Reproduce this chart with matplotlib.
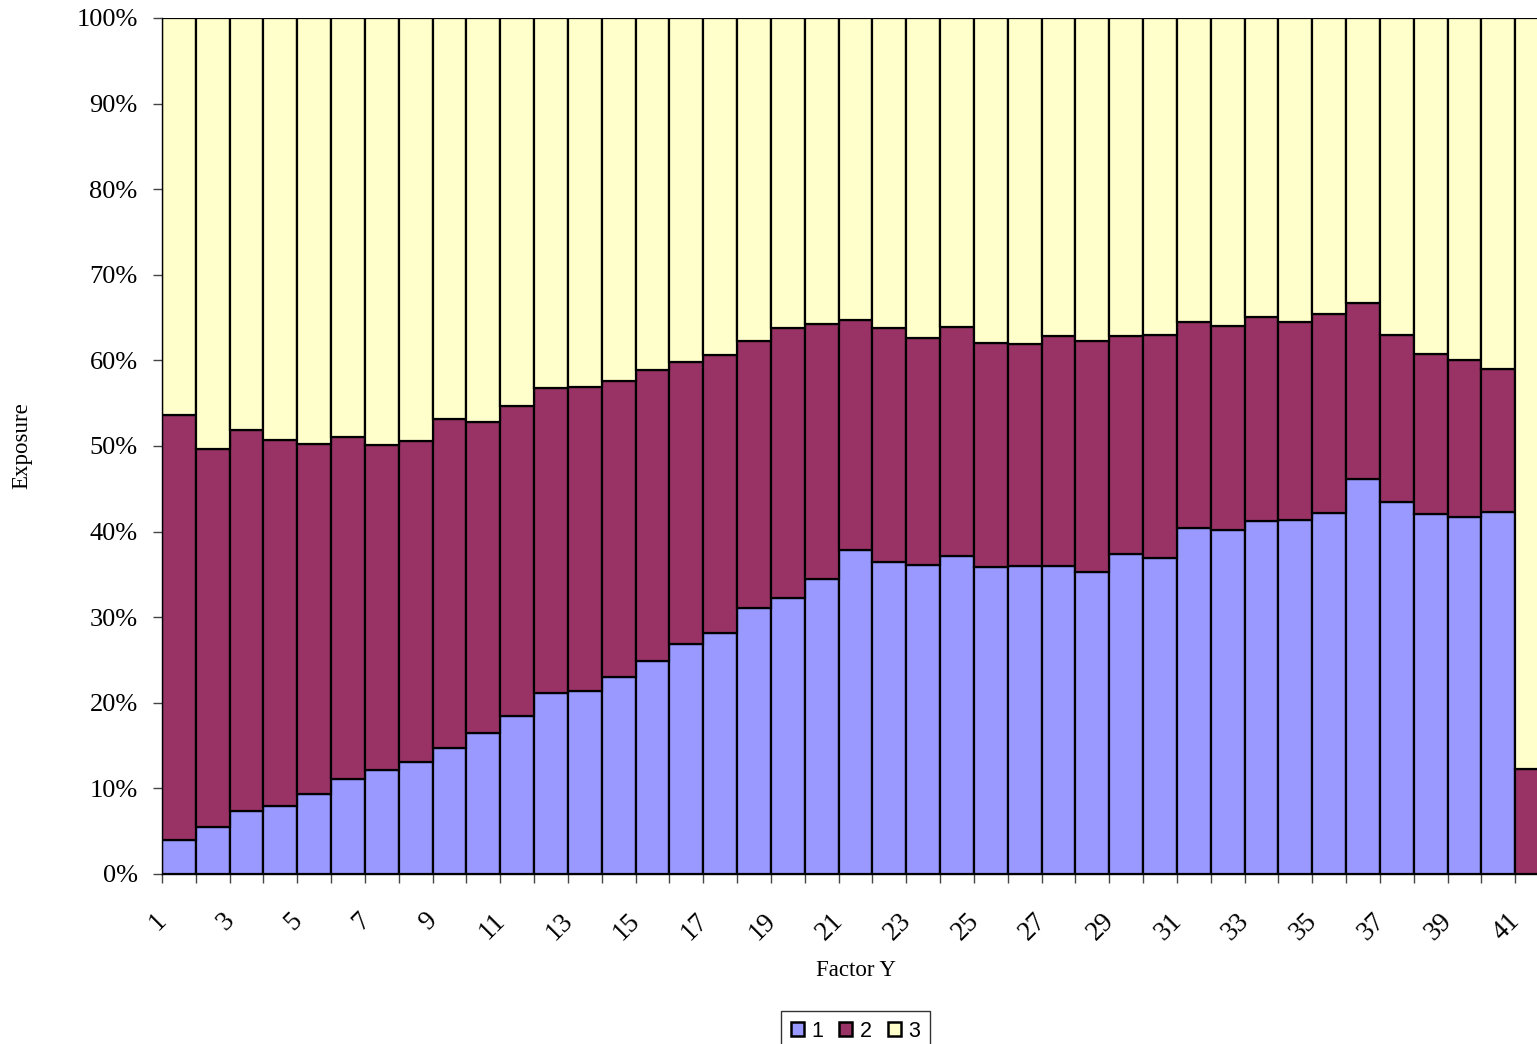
import numpy as np
import matplotlib
matplotlib.use('Agg')
import matplotlib.pyplot as plt
import matplotlib.transforms as mtransforms
from matplotlib.ticker import PercentFormatter

# exposure share per Factor Y level (percent)
categories = [str(i) for i in range(1, 42)]
share_1 = [4.0, 5.5, 7.4, 8.0, 9.3, 11.1, 12.1, 13.1, 14.7, 16.5,
           18.5, 21.2, 21.4, 23.0, 24.9, 26.9, 28.2, 31.1, 32.3, 34.5,
           37.9, 36.5, 36.1, 37.1, 35.9, 36.0, 36.0, 35.3, 37.4, 36.9,
           40.4, 40.2, 41.2, 41.4, 42.2, 46.1, 43.4, 42.1, 41.7, 42.3,
           0.0]
top_2 = [53.6, 49.6, 51.9, 50.7, 50.2, 51.1, 50.1, 50.6, 53.1, 52.8,
         54.7, 56.8, 56.9, 57.6, 58.9, 59.8, 60.6, 62.3, 63.8, 64.3,
         64.7, 63.8, 62.6, 63.9, 62.0, 61.9, 62.9, 62.3, 62.8, 63.0,
         64.5, 64.0, 65.1, 64.5, 65.4, 66.7, 63.0, 60.8, 60.0, 59.0,
         12.3]
share_2 = [t - b for t, b in zip(top_2, share_1)]
share_3 = [100 - t for t in top_2]

series_names = ['1', '2', '3']
series_colors = ['#9999FF', '#993366', '#FFFFCC']

W, H = 1537, 1044
fig = plt.figure(figsize=(W / 100, H / 100), dpi=100)
plt.rcParams['font.family'] = ['Liberation Serif', 'DejaVu Serif']

n = len(categories)
bar_w = 33.83
ax = fig.add_axes([162 / W, 1 - 874 / H, n * bar_w / W, (874 - 18) / H])

x = np.arange(n)
bottom = np.zeros(n)
handles = []
for name, vals, col in zip(series_names, [share_1, share_2, share_3], series_colors):
    vals = np.array(vals) / 100
    h = ax.bar(x, vals, width=1.0, bottom=bottom, align='edge', color=col,
               edgecolor='black', linewidth=1.6, label=name)
    bottom += vals
    handles.append(h)

ax.set_xlim(0, n)
ax.set_ylim(0, 1)
for s in ['top', 'right']:
    ax.spines[s].set_visible(False)
for s in ['left', 'bottom']:
    ax.spines[s].set_linewidth(1.0)

ax.set_yticks(np.linspace(0, 1, 11))
ax.yaxis.set_major_formatter(PercentFormatter(1.0, decimals=0))
ax.tick_params(axis='y', length=6.5, width=1, pad=11, labelsize=19, color='#444444')

# category edges get ticks, every other category gets a rotated label
ax.set_xticks(np.arange(n + 1))
ax.set_xticklabels([])
ax.tick_params(axis='x', which='major', length=6.5, width=1, color='#444444')
label_pos = x[::2] + 0.5
ax.set_xticks(label_pos, minor=True)
ax.set_xticklabels(categories[::2], minor=True, rotation=45, ha='right',
                   va='center', rotation_mode='anchor', fontsize=19.5)
ax.tick_params(axis='x', which='minor', length=0, pad=31)
shift = mtransforms.ScaledTranslation(-16 / 100, 0, fig.dpi_scale_trans)
for lbl in ax.get_xticklabels(minor=True):
    lbl.set_transform(lbl.get_transform() + shift)

fig.text(855.5 / W, 1 - 970.5 / H, 'Factor Y', ha='center', va='center', fontsize=16.5)
fig.text(22 / W, 1 - 446 / H, 'Exposure', ha='center', va='center',
         rotation=90, fontsize=16.5)

leg = fig.legend(handles=handles, labels=series_names, loc='upper center',
                 bbox_to_anchor=(855.5 / W, 1 - 1011 / H), ncol=3,
                 frameon=True, fancybox=False, edgecolor='black',
                 handlelength=0.6, handleheight=0.6, handletextpad=0.35,
                 columnspacing=0.75, borderpad=0.45, borderaxespad=0,
                 prop={'family': 'Liberation Sans', 'size': 15.5})
leg.get_frame().set_linewidth(1.0)
for p in leg.get_patches():
    p.set_linewidth(1.8)

fig.savefig('out.png', dpi=100)
